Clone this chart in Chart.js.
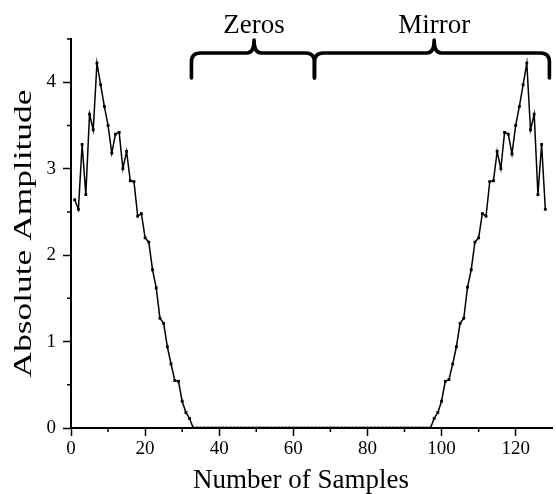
<!DOCTYPE html>
<html>
<head>
<meta charset="utf-8">
<title>Absolute Amplitude</title>
<script src="https://cdn.jsdelivr.net/npm/chart.js@4.4.1/dist/chart.umd.min.js"></script>
<style>
    html, body { margin: 0; padding: 0; background: #fff; }
    #wrap { width: 556px; height: 494px; }
</style>
</head>
<body>
<div id="wrap"><canvas id="ampChart" width="556" height="494"></canvas></div>
<script>
// Values, samples 1..128
const leftPart = [
    2.64, 2.53, 3.28, 2.70, 3.63, 3.45, 4.22, 3.97, 3.72, 3.50,
    3.18, 3.40, 3.42, 3.00, 3.20, 2.86, 2.85, 2.45, 2.48, 2.20,
    2.15, 1.83, 1.62, 1.27, 1.21, 0.94, 0.74, 0.55, 0.54, 0.31,
    0.18, 0.11
];
const zeroPart = [
    0, 0, 0, 0, 0, 0, 0, 0, 0, 0, 0, 0, 0, 0, 0, 0, 0, 0, 0, 0,
    0, 0, 0, 0, 0, 0, 0, 0, 0, 0, 0, 0, 0, 0, 0, 0, 0, 0, 0, 0,
    0, 0, 0, 0, 0, 0, 0, 0, 0, 0, 0, 0, 0, 0, 0, 0, 0, 0, 0, 0,
    0, 0, 0, 0, 0
];
const mirrorPart = [
    0.11, 0.18, 0.31, 0.54, 0.56, 0.74, 0.94, 1.21, 1.27, 1.63,
    1.83, 2.15, 2.20, 2.48, 2.45, 2.85, 2.86, 3.20, 3.00, 3.42,
    3.40, 3.17, 3.50, 3.72, 3.97, 4.22, 3.45, 3.63, 2.70, 3.28,
    2.53
];
const xTicks = [0, 20, 40, 60, 80, 100, 120];
const xMinorTicks = [10, 30, 50, 70, 90, 110];
const yTicks = [0, 1, 2, 3, 4];
const yMinorTicks = [0.5, 1.5, 2.5, 3.5, 4.5];
const braceLabels = ['Zeros', 'Mirror'];
const xTitle = 'Number of Samples';
const yTitle = 'Absolute Amplitude';

const amplitude = leftPart.concat(zeroPart, mirrorPart);
const points = amplitude.map((v, i) => ({ x: i + 1, y: v }));

const SERIF = '"Liberation Serif", "DejaVu Serif", serif';

// Curly brace drawn above the plot
function drawBrace(ctx, x1, xm, x2) {
    const yTip = 40, yBar = 53, yEnd = 78, r = 9, rt = 7;
    ctx.beginPath();
    ctx.moveTo(x1, yEnd);
    ctx.lineTo(x1, yBar + r);
    ctx.quadraticCurveTo(x1, yBar, x1 + r, yBar);
    ctx.lineTo(xm - rt, yBar);
    ctx.quadraticCurveTo(xm, yBar, xm, yTip);
    ctx.quadraticCurveTo(xm, yBar, xm + rt, yBar);
    ctx.lineTo(x2 - r, yBar);
    ctx.quadraticCurveTo(x2, yBar, x2, yBar + r);
    ctx.lineTo(x2, yEnd);
    ctx.stroke();
}

const extrasPlugin = {
    id: 'extras',
    afterDraw(chart) {
        const ctx = chart.ctx;
        const xs = chart.scales.x;
        const ys = chart.scales.y;
        const area = chart.chartArea;
        ctx.save();
        ctx.strokeStyle = '#000';
        ctx.fillStyle = '#000';

        // minor ticks
        ctx.lineWidth = 1.5;
        ctx.beginPath();
        yMinorTicks.forEach(v => {
            const py = ys.getPixelForValue(v);
            ctx.moveTo(area.left - 4, py);
            ctx.lineTo(area.left, py);
        });
        xMinorTicks.forEach(v => {
            const px = xs.getPixelForValue(v);
            ctx.moveTo(px, area.bottom);
            ctx.lineTo(px, area.bottom + 4);
        });
        ctx.stroke();

        // braces
        ctx.lineWidth = 3.6;
        ctx.lineCap = 'round';
        ctx.lineJoin = 'round';
        const zx = [32.5, 49.4, 65.7];
        const mx = [65.7, 98.0, 129.1];
        drawBrace(ctx, xs.getPixelForValue(zx[0]), xs.getPixelForValue(zx[1]), xs.getPixelForValue(zx[2]));
        drawBrace(ctx, xs.getPixelForValue(mx[0]), xs.getPixelForValue(mx[1]), xs.getPixelForValue(mx[2]));

        ctx.font = '27px ' + SERIF;
        ctx.textAlign = 'center';
        ctx.textBaseline = 'alphabetic';
        ctx.fillText(braceLabels[0], xs.getPixelForValue(zx[1]), 33);
        ctx.fillText(braceLabels[1], xs.getPixelForValue(mx[1]), 33);

        // axis titles
        ctx.font = '27px ' + SERIF;
        ctx.fillText(xTitle, 301, 488);

        ctx.translate(31, (area.top + area.bottom) / 2);
        ctx.rotate(-Math.PI / 2);
        ctx.scale(1.36, 1);
        ctx.font = '26px ' + SERIF;
        ctx.fillText(yTitle, 0, 0);
        ctx.restore();
    }
};

new Chart(document.getElementById('ampChart'), {
    type: 'line',
    data: {
        datasets: [{
            data: points,
            borderColor: '#000',
            backgroundColor: '#000',
            borderWidth: 1.5,
            pointStyle: 'rect',
            pointRadius: 2,
            pointBorderWidth: 0,
            tension: 0,
            fill: false
        }]
    },
    options: {
        responsive: false,
        animation: false,
        layout: { padding: { top: 39, right: 0, left: 0, bottom: 0 } },
        plugins: {
            legend: { display: false },
            tooltip: { enabled: false }
        },
        scales: {
            x: {
                type: 'linear',
                min: 0,
                max: 129.8,
                afterBuildTicks: scale => { scale.ticks = xTicks.map(v => ({ value: v })); },
                afterFit: scale => { scale.height = 66; },
                ticks: {
                    color: '#000',
                    padding: 2,
                    maxRotation: 0,
                    font: { family: SERIF, size: 19 }
                },
                grid: {
                    drawOnChartArea: false,
                    drawTicks: true,
                    tickLength: 8,
                    tickWidth: 1.5,
                    tickColor: '#000'
                },
                border: { display: true, color: '#000', width: 2 }
            },
            y: {
                type: 'linear',
                min: 0,
                max: 4.5,
                afterBuildTicks: scale => { scale.ticks = yTicks.map(v => ({ value: v })); },
                afterFit: scale => { scale.width = 71; },
                ticks: {
                    color: '#000',
                    padding: 7,
                    font: { family: SERIF, size: 19 }
                },
                grid: {
                    drawOnChartArea: false,
                    drawTicks: true,
                    tickLength: 8,
                    tickWidth: 1.5,
                    tickColor: '#000'
                },
                border: { display: true, color: '#000', width: 2 }
            }
        }
    },
    plugins: [extrasPlugin]
});
</script>
</body>
</html>
